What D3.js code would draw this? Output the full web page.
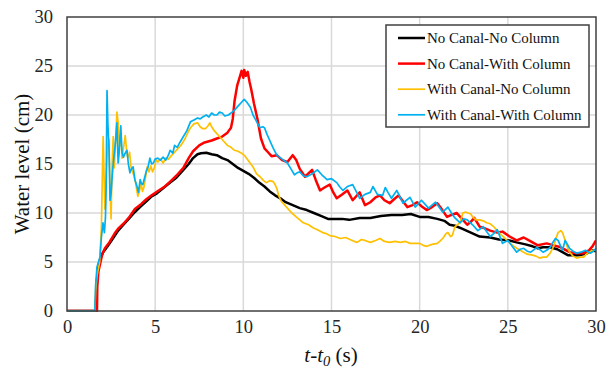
<!DOCTYPE html>
<html><head><meta charset="utf-8">
<script src="https://cdn.jsdelivr.net/npm/d3@7"></script>
<style>body{margin:0;background:#fff}svg{display:block}</style>
</head><body><svg id="c" width="606" height="369" font-family="Liberation Serif"></svg>
<script>
const xTicks = [0,5,10,15,20,25,30];
const yTicks = [0,5,10,15,20,25,30];
const seriesNames = ["No Canal-No Column","No Canal-With Column","With Canal-No Column","With Canal-With Column"];
const seriesColors = ["#000000","#ff0000","#ffc000","#00b0f0"];

const noCanalNoColumn = [[0,0],[1.62,0],[1.7,3.2],[1.78,4.6],[1.9,5.4],[2.05,6.0],[2.3,6.6],[2.6,7.4],[2.9,8.2],[3.2,8.8],[3.5,9.4],[3.85,10.1],[4.2,10.7],[4.5,11.2],[4.8,11.7],[5.1,12.0],[5.5,12.6],[5.85,13.1],[6.2,13.6],[6.6,14.4],[6.9,15.0],[7.15,15.6],[7.4,16.0],[7.6,16.1],[7.9,16.15],[8.2,16.0],[8.5,15.9],[8.8,15.6],[9.1,15.4],[9.4,15.0],[9.7,14.6],[10.0,14.3],[10.3,14.0],[10.6,13.6],[10.9,13.1],[11.2,12.7],[11.5,12.2],[11.8,11.8],[12.1,11.5],[12.4,11.1],[12.8,10.8],[13.2,10.5],[13.6,10.3],[14.0,10.0],[14.4,9.7],[14.8,9.4],[15.2,9.4],[15.6,9.4],[16.0,9.3],[16.6,9.5],[17.2,9.5],[17.8,9.7],[18.4,9.8],[19.0,9.8],[19.5,9.9],[20.0,9.6],[20.5,9.6],[21.0,9.4],[21.4,9.2],[21.7,8.8],[22.0,8.7],[22.4,8.4],[22.9,8.0],[23.4,7.6],[24.0,7.5],[24.5,7.3],[25.1,7.2],[25.5,7.0],[26.0,6.8],[26.4,6.6],[26.7,6.4],[27.0,6.5],[27.4,6.5],[27.8,6.3],[28.1,6.0],[28.4,5.7],[28.8,5.7],[29.1,5.7],[29.5,5.9],[29.8,6.2],[30,6.1]];

const noCanalWithColumn = [[0,0],[1.7,0],[1.72,2.5],[1.78,4.0],[1.85,4.6],[2.0,5.8],[2.15,6.4],[2.4,7.0],[2.7,7.9],[2.9,8.4],[3.2,8.9],[3.5,9.5],[3.85,10.4],[4.2,10.9],[4.5,11.4],[4.8,11.8],[5.2,12.3],[5.55,12.7],[5.85,13.2],[6.2,13.8],[6.6,14.6],[6.9,15.6],[7.15,16.3],[7.5,16.9],[7.8,17.2],[8.2,17.4],[8.5,17.6],[8.8,17.8],[9.1,18.2],[9.3,18.7],[9.4,19.6],[9.5,21.4],[9.65,23.0],[9.8,23.9],[9.9,24.5],[10.0,23.8],[10.05,24.6],[10.15,24.0],[10.25,24.4],[10.35,23.4],[10.45,22.6],[10.6,21.2],[10.8,19.6],[11.0,17.6],[11.2,16.6],[11.4,16.2],[11.6,15.8],[11.9,15.9],[12.2,15.4],[12.5,15.2],[12.8,15.9],[13.0,15.4],[13.2,14.5],[13.5,13.7],[13.9,14.4],[14.1,13.4],[14.35,12.3],[14.6,12.6],[14.9,12.9],[15.1,12.1],[15.3,11.5],[15.6,11.9],[15.9,12.3],[16.2,11.3],[16.6,12.1],[16.9,10.8],[17.2,11.1],[17.5,11.6],[17.75,11.8],[18.0,11.3],[18.3,11.0],[18.55,11.4],[18.8,11.8],[19.05,11.2],[19.3,10.6],[19.6,10.8],[19.85,11.1],[20.1,10.7],[20.4,10.3],[20.7,10.6],[21.0,11.0],[21.25,10.4],[21.55,9.6],[21.8,9.8],[22.1,10.0],[22.4,9.4],[22.7,8.8],[22.9,9.1],[23.1,9.5],[23.4,8.6],[23.6,8.5],[24.0,8.2],[24.4,8.0],[24.7,8.1],[25.1,7.6],[25.5,7.2],[25.9,7.5],[26.3,7.1],[26.7,6.7],[27.2,6.9],[27.6,6.7],[28.0,6.5],[28.5,6.0],[28.9,5.9],[29.3,5.9],[29.6,6.2],[29.8,6.6],[30,7.2]];

const withCanalNoColumn = [[0,0],[1.58,0],[1.62,2.0],[1.7,3.6],[1.85,5.0],[1.95,8.5],[2.0,13.4],[2.05,17.8],[2.1,14.0],[2.15,10.4],[2.22,13.5],[2.3,16.8],[2.38,17.5],[2.45,12.0],[2.5,9.4],[2.55,14.5],[2.62,17.8],[2.68,14.6],[2.76,17.4],[2.83,20.3],[2.9,19.2],[2.97,16.8],[3.05,18.0],[3.12,15.6],[3.2,16.6],[3.3,17.9],[3.38,16.4],[3.45,15.6],[3.55,16.2],[3.62,14.8],[3.72,14.2],[3.8,13.8],[3.88,13.2],[3.95,12.4],[4.02,11.7],[4.1,12.2],[4.2,13.0],[4.28,12.2],[4.36,12.6],[4.45,13.6],[4.55,14.7],[4.65,14.2],[4.75,14.8],[4.85,14.2],[4.95,14.6],[5.05,15.4],[5.15,15.2],[5.3,15.5],[5.45,15.1],[5.6,15.6],[5.75,15.5],[5.9,15.8],[6.1,16.2],[6.3,16.6],[6.5,17.0],[6.7,17.6],[6.85,18.2],[7.0,18.7],[7.2,19.1],[7.4,19.2],[7.55,18.8],[7.7,18.6],[7.85,18.6],[8.0,18.9],[8.1,19.2],[8.2,18.8],[8.35,18.4],[8.5,18.1],[8.7,17.7],[8.9,17.3],[9.1,16.9],[9.3,16.7],[9.5,16.4],[9.7,16.3],[9.9,16.1],[10.1,15.8],[10.3,15.3],[10.55,14.7],[10.75,14.0],[10.95,13.7],[11.15,13.3],[11.3,13.1],[11.5,13.3],[11.7,13.2],[11.8,12.9],[11.9,12.5],[12.0,11.8],[12.15,11.2],[12.3,10.9],[12.5,10.5],[12.75,10.0],[13.0,9.6],[13.2,9.3],[13.4,9.0],[13.7,8.8],[13.95,8.5],[14.2,8.3],[14.5,8.0],[14.7,7.9],[14.9,7.7],[15.2,7.6],[15.5,7.4],[15.8,7.5],[16.05,7.3],[16.3,7.1],[16.45,7.0],[16.7,7.3],[16.9,7.2],[17.2,7.0],[17.5,7.2],[17.75,7.4],[18.0,7.1],[18.3,7.0],[18.6,7.1],[18.9,7.0],[19.2,7.1],[19.45,6.9],[19.7,6.9],[20.0,6.9],[20.2,6.7],[20.4,6.6],[20.7,6.8],[21.0,6.9],[21.2,7.2],[21.35,7.5],[21.5,7.9],[21.6,8.0],[21.75,7.6],[21.85,7.7],[22.0,8.6],[22.15,8.8],[22.3,9.1],[22.45,10.0],[22.6,10.1],[22.75,10.0],[22.9,9.9],[23.0,9.6],[23.2,9.3],[23.4,9.3],[23.6,9.2],[23.8,9.0],[24.0,8.9],[24.2,8.6],[24.4,8.2],[24.6,7.8],[24.8,7.5],[24.95,7.2],[25.2,6.8],[25.5,6.4],[25.7,6.2],[25.9,6.0],[26.1,5.8],[26.4,5.7],[26.6,5.6],[26.8,5.4],[27.0,5.5],[27.2,5.5],[27.4,5.9],[27.6,6.6],[27.75,7.5],[27.85,8.0],[28.0,8.2],[28.1,8.0],[28.25,7.2],[28.4,6.4],[28.5,6.0],[28.7,5.6],[28.9,5.4],[29.1,5.5],[29.3,5.5],[29.45,5.8],[29.6,6.0],[29.8,6.2],[30,6.2]];

const withCanalWithColumn = [[0,0],[1.58,0],[1.62,2.5],[1.7,4.5],[1.87,5.5],[1.95,7.5],[2.04,9.0],[2.12,8.0],[2.18,9.5],[2.22,12.5],[2.27,22.5],[2.32,19.0],[2.38,16.7],[2.44,11.3],[2.5,12.0],[2.55,13.4],[2.62,15.0],[2.72,16.7],[2.78,18.0],[2.83,19.2],[2.9,15.1],[2.95,16.0],[3.0,17.4],[3.05,18.9],[3.12,16.2],[3.2,15.7],[3.3,16.1],[3.4,16.4],[3.48,15.0],[3.57,14.1],[3.65,14.5],[3.75,14.7],[3.85,13.4],[3.97,12.7],[4.05,12.1],[4.15,13.4],[4.22,13.0],[4.3,12.9],[4.4,13.6],[4.5,14.3],[4.6,14.7],[4.7,15.6],[4.8,15.0],[4.9,15.1],[5.0,15.5],[5.15,15.6],[5.3,15.4],[5.45,15.7],[5.6,15.4],[5.75,15.9],[5.85,16.4],[6.0,16.1],[6.1,16.9],[6.25,16.7],[6.4,17.2],[6.6,17.8],[6.8,18.4],[7.0,19.3],[7.2,19.5],[7.4,19.7],[7.55,19.6],[7.7,19.8],[7.9,20.0],[8.05,19.8],[8.2,20.2],[8.35,20.0],[8.5,20.0],[8.65,20.3],[8.8,20.2],[8.95,19.9],[9.15,20.0],[9.3,20.2],[9.5,20.5],[9.7,20.9],[9.9,21.3],[10.05,21.6],[10.2,21.3],[10.4,20.8],[10.55,20.0],[10.7,19.5],[10.85,19.0],[10.95,18.7],[11.1,18.8],[11.2,18.7],[11.35,18.0],[11.5,17.4],[11.7,16.6],[11.9,15.9],[12.2,15.5],[12.5,15.1],[12.7,14.5],[12.9,13.9],[13.05,14.1],[13.2,14.2],[13.4,13.8],[13.6,13.7],[13.9,14.0],[14.2,14.4],[14.45,13.9],[14.75,13.4],[15.0,13.5],[15.3,13.1],[15.45,12.7],[15.65,12.3],[15.9,12.7],[16.2,12.9],[16.4,12.2],[16.6,11.5],[16.9,11.9],[17.2,12.1],[17.35,12.7],[17.6,11.9],[17.9,11.8],[18.05,12.6],[18.2,12.1],[18.4,11.5],[18.7,12.3],[18.9,11.6],[19.05,11.0],[19.25,11.3],[19.45,11.6],[19.75,10.6],[20.1,11.3],[20.3,10.9],[20.5,10.5],[20.7,10.8],[20.9,11.1],[21.1,10.6],[21.3,10.1],[21.6,10.6],[21.8,10.0],[22.0,9.5],[22.3,9.0],[22.5,9.4],[22.7,9.3],[23.0,8.8],[23.3,8.2],[23.6,8.6],[24.0,7.6],[24.2,7.9],[24.4,8.3],[24.7,6.9],[25.0,7.2],[25.25,6.6],[25.5,6.0],[25.7,6.3],[25.9,6.4],[26.1,6.1],[26.3,6.0],[26.65,6.5],[27.0,6.0],[27.2,6.2],[27.4,6.5],[27.55,7.0],[27.7,7.4],[27.85,7.2],[28.0,6.6],[28.1,6.2],[28.25,7.2],[28.5,6.4],[28.7,6.1],[28.9,5.9],[29.15,6.0],[29.4,6.2],[29.7,5.9],[29.85,6.1],[30,6.4]];

const seriesData = [noCanalNoColumn, noCanalWithColumn, withCanalNoColumn, withCanalWithColumn];
const seriesWidths = [2.5, 2.5, 1.7, 1.7];
const FONT = "Liberation Serif";

const L = 67, R = 596, T = 17, B = 311;
const svg = d3.select("#c");
const x = d3.scaleLinear().domain([0,30]).range([L,R]);
const y = d3.scaleLinear().domain([0,30]).range([B,T]);

// grid
const g = svg.append("g");
g.selectAll(".gx").data(xTicks.slice(1,-1)).join("line")
  .attr("x1",d=>x(d)).attr("x2",d=>x(d)).attr("y1",T).attr("y2",B)
  .attr("stroke","#d9d9d9").attr("stroke-width",1.5);
g.selectAll(".gy").data(yTicks.slice(1,-1)).join("line")
  .attr("x1",L).attr("x2",R).attr("y1",d=>y(d)).attr("y2",d=>y(d))
  .attr("stroke","#d9d9d9").attr("stroke-width",1.5);

// axes tick labels
const xa = svg.append("g").attr("transform",`translate(0,${B})`)
  .call(d3.axisBottom(x).tickValues(xTicks).tickSize(0).tickPadding(9));
xa.attr("font-family", FONT).attr("font-size",18.5);
xa.select(".domain").remove();
xa.selectAll("text").attr("fill","#262626").attr("font-family", FONT);
const ya = svg.append("g").attr("transform",`translate(${L},0)`)
  .call(d3.axisLeft(y).tickValues(yTicks).tickSize(0).tickPadding(14));
ya.attr("font-family", FONT).attr("font-size",18.5);
ya.select(".domain").remove();
ya.selectAll("text").attr("fill","#262626").attr("font-family", FONT);

// lines
const line = d3.line().x(d=>x(d[0])).y(d=>y(d[1]));
svg.append("clipPath").attr("id","cp").append("rect").attr("x",L).attr("y",T).attr("width",R-L).attr("height",B-T+1);
seriesData.forEach((s,i)=>{
  svg.append("path").datum(s).attr("d",line).attr("fill","none")
    .attr("stroke",seriesColors[i]).attr("stroke-width",seriesWidths[i])
    .attr("stroke-linejoin","round").attr("clip-path","url(#cp)");
});

// frame
svg.append("rect").attr("x",L).attr("y",T).attr("width",R-L).attr("height",B-T)
  .attr("fill","none").attr("stroke","#404040").attr("stroke-width",1.5);

// axis titles
svg.append("text").attr("transform","translate(29,164) rotate(-90)")
  .attr("text-anchor","middle").attr("font-size",21).attr("fill","#111").attr("font-family", FONT).text("Water level (cm)");
const xt = svg.append("text").attr("x",331).attr("y",362).attr("text-anchor","middle").attr("font-size",21).attr("fill","#111").attr("font-family", FONT);
xt.append("tspan").attr("font-style","italic").text("t-t");
xt.append("tspan").attr("font-style","italic").attr("font-size",14.5).attr("dy",4).text("0");
xt.append("tspan").attr("dy",-4).text(" (s)");

// legend
const lg = svg.append("g");
lg.append("rect").attr("x",386).attr("y",25).attr("width",203).attr("height",102)
  .attr("fill","#fff").attr("stroke","#404040").attr("stroke-width",1.5);
seriesNames.forEach((n,i)=>{
  const yy = 38 + i*25.6;
  lg.append("line").attr("x1",398).attr("x2",425).attr("y1",yy).attr("y2",yy)
    .attr("stroke",seriesColors[i]).attr("stroke-width",seriesWidths[i]);
  lg.append("text").attr("x",427).attr("y",yy+5).attr("font-size",15).attr("fill","#111").attr("font-family", FONT).text(n);
});
</script></body></html>
